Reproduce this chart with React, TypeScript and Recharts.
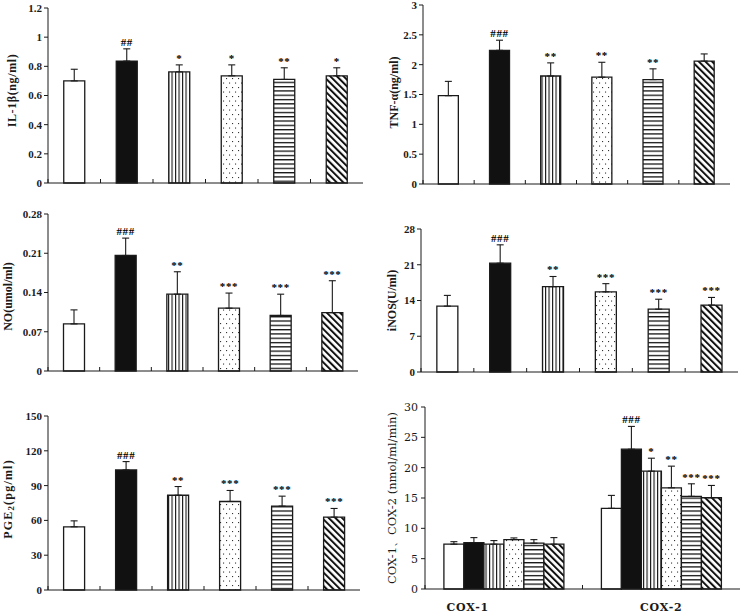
import React from 'react';
import { ComposedChart, Bar, XAxis, YAxis, ErrorBar, Cell, LabelList } from 'recharts';

// ---------- data ----------
const groupKeys = ['Control', 'Model', 'Group 1', 'Group 2', 'Group 3', 'Group 4'];

const il1bMeans = [0.70, 0.836, 0.762, 0.735, 0.71, 0.735];
const il1bErrors = [0.08, 0.084, 0.048, 0.075, 0.08, 0.055];
const il1bMarks = ['', '##', '*', '*', '**', '*'];
const il1bTicks = [0, 0.2, 0.4, 0.6, 0.8, 1, 1.2];

const tnfMeans = [1.48, 2.24, 1.81, 1.79, 1.75, 2.06];
const tnfErrors = [0.24, 0.17, 0.22, 0.25, 0.18, 0.12];
const tnfMarks = ['', '###', '**', '**', '**', ''];
const tnfTicks = [0, 0.5, 1, 1.5, 2, 2.5, 3];

const noMeans = [0.084, 0.206, 0.137, 0.112, 0.099, 0.104];
const noErrors = [0.025, 0.031, 0.040, 0.027, 0.038, 0.057];
const noMarks = ['', '###', '**', '***', '***', '***'];
const noTicks = [0, 0.07, 0.14, 0.21, 0.28];

const inosMeans = [12.9, 21.3, 16.7, 15.7, 12.3, 13.1];
const inosErrors = [2.1, 3.6, 2.0, 1.6, 1.95, 1.5];
const inosMarks = ['', '###', '**', '***', '***', '***'];
const inosTicks = [0, 7, 14, 21, 28];

const pgeMeans = [54.5, 103.5, 81.7, 76.3, 72.3, 62.8];
const pgeErrors = [5.1, 7.2, 7.5, 9.5, 8.6, 7.5];
const pgeMarks = ['', '###', '**', '***', '***', '***'];
const pgeTicks = [0, 30, 60, 90, 120, 150];

const coxCategories = ['COX-1', 'COX-2'];
const cox1Means = [7.39, 7.65, 7.39, 8.14, 7.55, 7.39];
const cox1Errors = [0.41, 0.82, 0.59, 0.28, 0.59, 1.08];
const cox1Marks = ['', '', '', '', '', ''];
const cox2Means = [13.3, 23.04, 19.42, 16.68, 15.27, 15.04];
const cox2Errors = [2.13, 3.76, 2.14, 3.57, 2.07, 2.03];
const cox2Marks = ['', '###', '*', '**', '***', '***'];
const coxTicks = [0, 5, 10, 15, 20, 25, 30];

// ---------- styles ----------
const SERIF = "'Times New Roman', 'Liberation Serif', serif";
const WIDE_SERIF = "'DejaVu Serif', 'Liberation Serif', serif";
const INK = '#1a1a1a';
const FILLS = ['#ffffff', '#111111', 'url(#pat-vert)', 'url(#pat-dots)', 'url(#pat-horiz)', 'url(#pat-diag)'];

type Layout = {
  box: { x: number; y: number; w: number; h: number };
  plot: { left: number; top: number; right: number; bottom: number };
  titleX: number;
  titleDy: number;
};

const layouts: Record<string, Layout> = {
  il1b: { box: { x: 0, y: 0, w: 370, h: 200 }, plot: { left: 48, top: 8, right: 363, bottom: 183 }, titleX: 12, titleDy: -5 },
  tnf: { box: { x: 370, y: 0, w: 371, h: 200 }, plot: { left: 423, top: 5, right: 730, bottom: 184 }, titleX: 24, titleDy: -2 },
  no: { box: { x: 0, y: 200, w: 370, h: 190 }, plot: { left: 48, top: 214, right: 358, bottom: 371 }, titleX: 8, titleDy: 4 },
  inos: { box: { x: 370, y: 200, w: 371, h: 190 }, plot: { left: 421, top: 229, right: 738, bottom: 372 }, titleX: 22, titleDy: 0 },
  pge: { box: { x: 0, y: 390, w: 370, h: 224 }, plot: { left: 48, top: 416, right: 360, bottom: 590 }, titleX: 8, titleDy: -4 },
  cox: { box: { x: 370, y: 390, w: 371, h: 224 }, plot: { left: 425, top: 407, right: 740, bottom: 589 }, titleX: 22, titleDy: 0 },
};

const coxLabelDx = [-36, 0];

// ---------- helpers ----------
const markContent = (props: any) => {
  const note = props.value;
  if (!note || !note.text) return null;
  const vb = props.viewBox ?? props;
  if (!vb || vb.height == null) return null;
  const pxPerUnit = vb.height / note.mean;
  const topY = vb.y - note.err * pxPerUnit;
  return (
    <text
      x={vb.x + vb.width / 2}
      y={topY - 3}
      textAnchor="middle"
      fontSize={11}
      fontWeight="bold"
      fontFamily={SERIF}
      letterSpacing={0.6}
      fill="#000"
    >
      {note.text}
    </text>
  );
};

const boundaryTick = (halfBand: number) => (p: any) => {
  const off = typeof p.payload?.offset === 'number' && p.payload.offset > 0 ? p.payload.offset : halfBand;
  const x = p.x - off;
  return <line x1={x} x2={x} y1={p.y} y2={p.y - 4} stroke={INK} strokeWidth={1} />;
};

const titleRenderer = (layout: Layout, content: React.ReactNode, font: string, weight: string, size: number, spacing: number) => (lp: any) => {
  const vb = lp?.viewBox;
  const cy0 = vb && typeof vb.y === 'number' && typeof vb.height === 'number'
    ? vb.y + vb.height / 2
    : (layout.plot.top + layout.plot.bottom) / 2 - layout.box.y;
  const cy = cy0 + layout.titleDy;
  const tx = layout.titleX;
  return (
    <text
      x={tx}
      y={cy}
      transform={`rotate(-90, ${tx}, ${cy})`}
      textAnchor="middle"
      dominantBaseline="central"
      fontSize={size}
      fontWeight={weight}
      fontFamily={font}
      letterSpacing={spacing}
      fill={INK}
    >
      {content}
    </text>
  );
};

type SingleProps = {
  layout: Layout;
  means: number[];
  errors: number[];
  marks: string[];
  ticks: number[];
  title: React.ReactNode;
  titleSpacing?: number;
};

function SinglePanel({ layout, means, errors, marks, ticks, title, titleSpacing = 0 }: SingleProps) {
  const data = groupKeys.map((g, i) => ({
    group: g,
    mean: means[i],
    err: [0, errors[i]],
    note: { text: marks[i], mean: means[i], err: errors[i] },
  }));
  const { box, plot } = layout;
  const yw = plot.left - box.x;
  const mt = plot.top - box.y;
  const mr = box.x + box.w - plot.right;
  const xh = box.y + box.h - plot.bottom;
  const halfBand = (plot.right - plot.left) / groupKeys.length / 2;
  return (
    <div style={{ position: 'absolute', left: box.x, top: box.y, width: box.w, height: box.h }}>
      <ComposedChart
        width={box.w}
        height={box.h}
        data={data}
        margin={{ top: mt, right: mr, bottom: 0, left: 0 }}
        barCategoryGap="30%"
      >
        <XAxis
          dataKey="group"
          height={xh}
          interval={0}
          axisLine={{ stroke: INK, strokeWidth: 1 }}
          tickLine={false}
          tickSize={0}
          tickMargin={0}
          tick={boundaryTick(halfBand)}
        />
        <YAxis
          width={yw}
          domain={[0, ticks[ticks.length - 1]]}
          ticks={ticks}
          interval={0}
          axisLine={{ stroke: INK, strokeWidth: 1 }}
          tickLine={{ stroke: INK, strokeWidth: 1 }}
          tickSize={4}
          tickMargin={2}
          tick={{ fill: INK, fontSize: 11, fontWeight: 'bold', fontFamily: SERIF }}
          label={titleRenderer(layout, title, SERIF, 'bold', 12, titleSpacing)}
        />
        <Bar dataKey="mean" stroke={INK} strokeWidth={1.3} isAnimationActive={false}>
          {data.map((d, i) => (
            <Cell key={d.group} fill={FILLS[i]} />
          ))}
          <ErrorBar dataKey="err" width={3.5} stroke={INK} strokeWidth={1.1} direction="y" />
          <LabelList dataKey="note" content={markContent} />
        </Bar>
      </ComposedChart>
    </div>
  );
}

function CoxPanel() {
  const layout = layouts.cox;
  const series = [
    { means: cox1Means, errors: cox1Errors, marks: cox1Marks },
    { means: cox2Means, errors: cox2Errors, marks: cox2Marks },
  ];
  const data = coxCategories.map((cat, c) => {
    const row: any = { cat };
    groupKeys.forEach((_, i) => {
      row[`m${i}`] = series[c].means[i];
      row[`e${i}`] = [0, series[c].errors[i]];
      row[`n${i}`] = { text: series[c].marks[i], mean: series[c].means[i], err: series[c].errors[i] };
    });
    return row;
  });
  const { box, plot } = layout;
  const yw = plot.left - box.x;
  const mt = plot.top - box.y;
  const mr = box.x + box.w - plot.right;
  const xh = box.y + box.h - plot.bottom;
  const halfBand = (plot.right - plot.left) / coxCategories.length / 2;
  const coxTick = (p: any) => {
    const off = typeof p.payload?.offset === 'number' && p.payload.offset > 0 ? p.payload.offset : halfBand;
    const idx = p.index ?? coxCategories.indexOf(p.payload?.value);
    const bx = p.x - off;
    return (
      <g>
        <line x1={bx} x2={bx} y1={p.y} y2={p.y - 4} stroke={INK} strokeWidth={1} />
        <text
          x={p.x + (coxLabelDx[idx] ?? 0)}
          y={p.y + 22}
          textAnchor="middle"
          fontSize={11}
          fontWeight="bold"
          fontFamily={WIDE_SERIF}
          letterSpacing={0.8}
          fill={INK}
        >
          {p.payload?.value}
        </text>
      </g>
    );
  };
  return (
    <div style={{ position: 'absolute', left: box.x, top: box.y, width: box.w, height: box.h }}>
      <ComposedChart
        width={box.w}
        height={box.h}
        data={data}
        margin={{ top: mt, right: mr, bottom: 0, left: 0 }}
        barCategoryGap="12%"
        barGap={0}
      >
        <XAxis
          dataKey="cat"
          height={xh}
          interval={0}
          axisLine={{ stroke: INK, strokeWidth: 1 }}
          tickLine={false}
          tickSize={0}
          tickMargin={0}
          tick={coxTick}
        />
        <YAxis
          width={yw}
          domain={[0, coxTicks[coxTicks.length - 1]]}
          ticks={coxTicks}
          interval={0}
          axisLine={{ stroke: INK, strokeWidth: 1 }}
          tickLine={{ stroke: INK, strokeWidth: 1 }}
          tickSize={4}
          tickMargin={3}
          tick={{ fill: INK, fontSize: 11, fontFamily: WIDE_SERIF }}
          label={titleRenderer(layout, 'COX-1、COX-2 (nmol/ml/min)', WIDE_SERIF, 'normal', 11.5, 0)}
        />
        {groupKeys.map((g, i) => (
          <Bar key={g} dataKey={`m${i}`} fill={FILLS[i]} stroke={INK} strokeWidth={1.3} isAnimationActive={false}>
            <ErrorBar dataKey={`e${i}`} width={3.5} stroke={INK} strokeWidth={1.1} direction="y" />
            <LabelList dataKey={`n${i}`} content={markContent} />
          </Bar>
        ))}
      </ComposedChart>
    </div>
  );
}

function Patterns() {
  return (
    <svg width={0} height={0} style={{ position: 'absolute' }}>
      <defs>
        <pattern id="pat-vert" width={3.5} height={10} patternUnits="userSpaceOnUse">
          <rect width={3.5} height={10} fill="#fff" />
          <rect x={0} y={0} width={1.1} height={10} fill="#111" />
        </pattern>
        <pattern id="pat-dots" width={6} height={9} patternUnits="userSpaceOnUse">
          <rect width={6} height={9} fill="#fff" />
          <rect x={1} y={1.5} width={1.1} height={1.1} fill="#333" />
          <rect x={4} y={6} width={1.1} height={1.1} fill="#333" />
        </pattern>
        <pattern id="pat-horiz" width={10} height={4.3} patternUnits="userSpaceOnUse">
          <rect width={10} height={4.3} fill="#fff" />
          <rect x={0} y={0} width={10} height={1.3} fill="#111" />
        </pattern>
        <pattern id="pat-diag" width={4.7} height={10} patternUnits="userSpaceOnUse" patternTransform="rotate(-45)">
          <rect width={4.7} height={10} fill="#fff" />
          <rect x={0} y={0} width={2} height={10} fill="#111" />
        </pattern>
      </defs>
    </svg>
  );
}

export default function App() {
  return (
    <div style={{ position: 'absolute', left: 0, top: 0, width: 741, height: 614, background: '#fff', overflow: 'hidden' }}>
      <Patterns />
      <SinglePanel layout={layouts.il1b} means={il1bMeans} errors={il1bErrors} marks={il1bMarks} ticks={il1bTicks} title="IL-1β(ng/ml)" titleSpacing={0.6} />
      <SinglePanel layout={layouts.tnf} means={tnfMeans} errors={tnfErrors} marks={tnfMarks} ticks={tnfTicks} title="TNF-α(ng/ml)" />
      <SinglePanel layout={layouts.no} means={noMeans} errors={noErrors} marks={noMarks} ticks={noTicks} title="NO(umol/ml)" />
      <SinglePanel layout={layouts.inos} means={inosMeans} errors={inosErrors} marks={inosMarks} ticks={inosTicks} title="iNOS(U/ml)" />
      <SinglePanel
        layout={layouts.pge}
        means={pgeMeans}
        errors={pgeErrors}
        marks={pgeMarks}
        ticks={pgeTicks}
        titleSpacing={1.2}
        title={
          <>
            <tspan>PGE</tspan>
            <tspan dy={3} fontSize={9}>2</tspan>
            <tspan dy={-3}>(pg/ml)</tspan>
          </>
        }
      />
      <CoxPanel />
    </div>
  );
}
